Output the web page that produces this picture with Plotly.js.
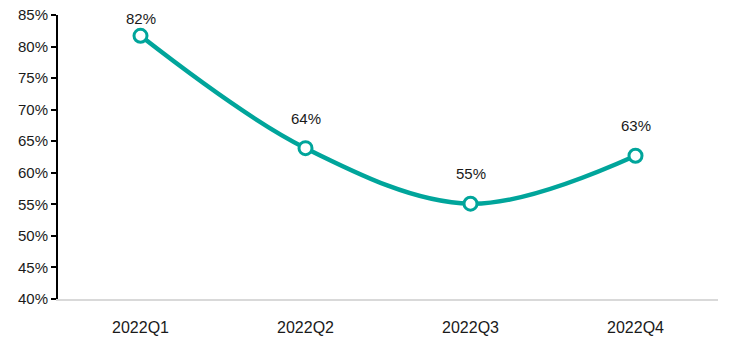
<!DOCTYPE html>
<html>
<head>
<meta charset="utf-8">
<script src="https://cdn.plot.ly/plotly-3.0.1.min.js"></script>
<style>html,body{margin:0;padding:0;background:#fff;}#chart{width:731px;height:354px;}</style>
</head>
<body>
<div id="chart"></div>
<script>
const categories = ["2022Q1", "2022Q2", "2022Q3", "2022Q4"];
const values = [0.817, 0.639, 0.551, 0.627];
const labels = ["82%", "64%", "55%", "63%"];
const yTickVals = [0.40, 0.45, 0.50, 0.55, 0.60, 0.65, 0.70, 0.75, 0.80, 0.85];
const yTickText = ["40%", "45%", "50%", "55%", "60%", "65%", "70%", "75%", "80%", "85%"];

const teal = "#00a59b";
const fontFam = "Liberation Sans, Arial, sans-serif";
const labelShift = [17, 30, 30, 30];

const trace = {
  x: categories,
  y: values,
  type: "scatter",
  mode: "lines+markers",
  line: {color: teal, width: 4.5, shape: "spline", smoothing: 1},
  marker: {size: 13, color: "#ffffff", line: {color: teal, width: 3}},
  hoverinfo: "none",
  cliponaxis: false
};

const annotations = categories.map((c, i) => ({
  x: c, y: values[i], text: labels[i], showarrow: false,
  yshift: labelShift[i], xref: "x", yref: "y",
  font: {family: fontFam, size: 15, color: "#1a1a1a"}
}));

const layout = {
  width: 731, height: 354,
  margin: {l: 58, r: 13, t: 15, b: 55},
  paper_bgcolor: "#fff", plot_bgcolor: "#fff",
  showlegend: false,
  font: {family: fontFam, size: 15, color: "#1a1a1a"},
  xaxis: {
    type: "category", range: [-0.5, 3.5],
    showgrid: false, zeroline: false,
    showline: true, linecolor: "#d9d9d9", linewidth: 2,
    ticks: "", ticklabelstandoff: 13,
    tickfont: {family: fontFam, size: 16, color: "#1a1a1a"}
  },
  yaxis: {
    range: [0.40, 0.85], tickvals: yTickVals, ticktext: yTickText,
    showgrid: false, zeroline: false,
    showline: true, linecolor: "#000", linewidth: 2,
    ticks: "outside", ticklen: 5, tickwidth: 2, tickcolor: "#000",
    tickfont: {family: fontFam, size: 15, color: "#1a1a1a"}
  },
  annotations: annotations
};

Plotly.newPlot("chart", [trace], layout, {displayModeBar: false, staticPlot: true});
</script>
</body>
</html>
